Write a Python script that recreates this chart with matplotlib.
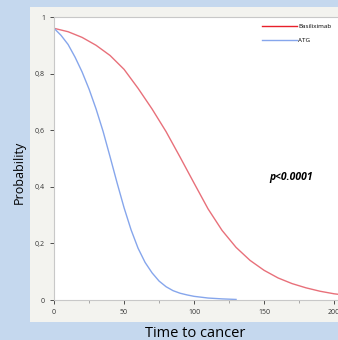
import matplotlib.pyplot as plt
from matplotlib.patches import Rectangle

# 曲线数值
t_basil = [0, 10, 20, 30, 40, 50, 60, 70, 80, 90, 100, 110, 120, 130, 140, 150, 160, 170, 180, 190, 200, 205]
p_basil = [0.96, 0.948, 0.928, 0.90, 0.864, 0.815, 0.748, 0.675, 0.595, 0.505, 0.413, 0.322, 0.246,
           0.186, 0.14, 0.105, 0.078, 0.058, 0.043, 0.031, 0.022, 0.019]
t_atg = [0, 5, 10, 15, 20, 25, 30, 35, 40, 45, 50, 55, 60, 65, 70, 75, 80, 85, 90, 95, 100, 110, 120, 130]
p_atg = [0.96, 0.935, 0.903, 0.858, 0.806, 0.745, 0.675, 0.596, 0.506, 0.414, 0.326, 0.248, 0.183,
         0.133, 0.096, 0.067, 0.047, 0.033, 0.024, 0.018, 0.013, 0.007, 0.004, 0.002]

series_names = ['Basiliximab', 'ATG']
series_colors = ['#e8707a', '#86a6ec']

x_ticks = [0, 50, 100, 150, 200]
y_ticks = [0, 0.2, 0.4, 0.6, 0.8, 1.0]
y_tick_labels = ['0', '0,2', '0,4', '0,6', '0,8', '1']

plt.rcParams['font.family'] = ['Open Sans', 'DejaVu Sans']


def main():
    fig = plt.figure(figsize=(3.38, 3.40), dpi=100)
    fig.patch.set_facecolor('#c5d8ee')

    # 浅灰色面板
    panel = Rectangle((0.089, 0.053), 0.95, 0.926, transform=fig.transFigure,
                      facecolor='#f3f3ef', edgecolor='none', zorder=-1)
    fig.add_artist(panel)

    ax = fig.add_axes([0.16, 0.1176, 0.849, 0.8324])
    ax.set_zorder(1)
    ax.set_facecolor('white')

    ax.plot(t_basil, p_basil, color=series_colors[0], lw=1.0, label=series_names[0])
    ax.plot(t_atg, p_atg, color=series_colors[1], lw=1.0, label=series_names[1])

    ax.set_xlim(0, 205)
    ax.set_ylim(0, 1)
    ax.set_xticks(x_ticks)
    ax.set_xticks([25, 75, 125, 175], minor=True)
    ax.set_yticks(y_ticks)
    ax.set_yticklabels(y_tick_labels)
    ax.tick_params(axis='both', labelsize=5, colors='#333333', length=3, width=0.6)
    ax.tick_params(axis='x', which='minor', length=2, width=0.5, colors='#888888')
    for s in ax.spines.values():
        s.set_color('#c8c8c8')
        s.set_linewidth(0.8)

    # 图例
    leg = ax.legend(loc='upper right', bbox_to_anchor=(0.985, 0.995), frameon=False,
                    fontsize=4.5, handlelength=5.5, handletextpad=0.2, labelspacing=1.3)
    leg.get_lines()[0].set_color('#e8202a')

    ax.text(0.826, 0.433, 'p<0.0001', transform=ax.transAxes, fontsize=7.5,
            fontweight='bold', fontstyle='italic', ha='center', va='center')

    fig.text(0.058, 0.494, 'Probability', rotation=90, fontsize=9, ha='center', va='center')
    fig.text(0.577, 0.02, 'Time to cancer', fontsize=10.5, ha='center', va='center')

    fig.savefig('out.png', dpi=100, facecolor=fig.get_facecolor())


if __name__ == "__main__":
    main()
